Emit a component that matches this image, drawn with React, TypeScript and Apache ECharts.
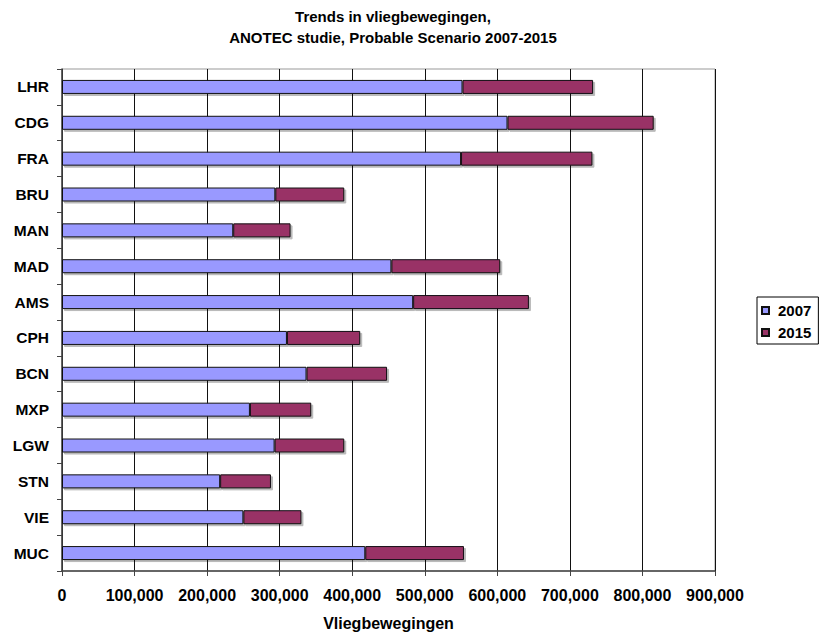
import React, { useEffect, useRef } from "react";
import * as echarts from "echarts";

// Airports, top to bottom
const airports = ["LHR", "CDG", "FRA", "BRU", "MAN", "MAD", "AMS", "CPH", "BCN", "MXP", "LGW", "STN", "VIE", "MUC"];

// Flight movements 2007
const movements2007 = [552000, 614000, 550000, 294000, 236000, 454000, 484000, 310000, 337000, 259000, 293000, 218000, 250000, 418000];

// Stacked 2015 segment (drawn on top of the 2007 bar)
const movements2015 = [180000, 201500, 181000, 95000, 79000, 150000, 159500, 101000, 111000, 84500, 96000, 70000, 80000, 136000];

const seriesNames = ["2007", "2015"];
const titleLines = ["Trends in vliegbewegingen,", "ANOTEC studie, Probable Scenario 2007-2015"];
const axisTitle = "Vliegbewegingen";

const FONT = "Liberation Sans, Arial, Helvetica, sans-serif";

export default function App() {
  const ref = useRef<HTMLDivElement>(null);

  useEffect(() => {
    document.body.style.margin = "0";
    if (!ref.current) return;
    const chart = echarts.init(ref.current, null, { renderer: "svg" });

    const barStyle = (color: string) => ({
      color,
      borderColor: "#111",
      borderWidth: 1,
      shadowColor: "rgba(0,0,0,0.28)",
      shadowOffsetX: 2,
      shadowOffsetY: 2,
      shadowBlur: 1,
    });

    chart.setOption({
      animation: false,
      backgroundColor: "#fff",
      textStyle: { fontFamily: FONT },
      graphic: [
        {
          type: "text",
          x: 393,
          y: 16,
          style: {
            text: titleLines[0],
            fill: "#000",
            font: `bold 15px ${FONT}`,
            textAlign: "center",
            textVerticalAlign: "middle",
          },
        },
        {
          type: "text",
          x: 393,
          y: 37,
          style: {
            text: titleLines[1],
            fill: "#000",
            font: `bold 15px ${FONT}`,
            textAlign: "center",
            textVerticalAlign: "middle",
          },
        },
      ],
      legend: {
        data: seriesNames,
        orient: "vertical",
        left: 757,
        top: 297,
        borderColor: "#000",
        borderWidth: 1,
        padding: [6, 7, 4, 4],
        itemWidth: 7,
        itemHeight: 7,
        itemGap: 7,
        icon: "rect",
        textStyle: {
          fontSize: 15,
          fontWeight: "bold",
          color: "#000",
          fontFamily: FONT,
          padding: [0, 0, 0, 4],
        },
      },
      grid: {
        left: 62,
        right: 104,
        top: 69,
        bottom: 63,
        show: true,
        borderColor: "#999",
        borderWidth: 1,
        containLabel: false,
      },
      xAxis: {
        type: "value",
        min: 0,
        max: 900000,
        interval: 100000,
        name: axisTitle,
        nameLocation: "middle",
        nameGap: 44,
        nameTextStyle: { fontSize: 16, fontWeight: "bold", color: "#000", fontFamily: FONT },
        axisLine: { show: true, lineStyle: { color: "#444", width: 1.5 } },
        axisTick: { show: true, length: 5, lineStyle: { color: "#444" } },
        axisLabel: {
          fontSize: 16,
          fontWeight: "bold",
          color: "#000",
          margin: 16,
          fontFamily: FONT,
          formatter: (v: number) => v.toLocaleString("en-US"),
        },
        splitLine: { show: true, lineStyle: { color: "#111", width: 1 } },
      },
      yAxis: {
        type: "category",
        data: airports,
        inverse: true,
        axisLine: { show: true, lineStyle: { color: "#444", width: 1.5 } },
        axisTick: { show: true, length: 5, lineStyle: { color: "#444" } },
        axisLabel: {
          fontSize: 15.5,
          fontWeight: "bold",
          color: "#000",
          margin: 13,
          fontFamily: FONT,
        },
        splitLine: { show: false },
      },
      series: [
        {
          name: seriesNames[0],
          type: "bar",
          stack: "total",
          barWidth: 14,
          data: movements2007,
          itemStyle: barStyle("#9999FF"),
        },
        {
          name: seriesNames[1],
          type: "bar",
          stack: "total",
          barWidth: 14,
          data: movements2015,
          itemStyle: barStyle("#993366"),
        },
      ],
    });

    return () => chart.dispose();
  }, []);

  return (
    <div
      ref={ref}
      style={{ position: "fixed", left: 0, top: 0, width: 819, height: 636, background: "#fff" }}
    />
  );
}
